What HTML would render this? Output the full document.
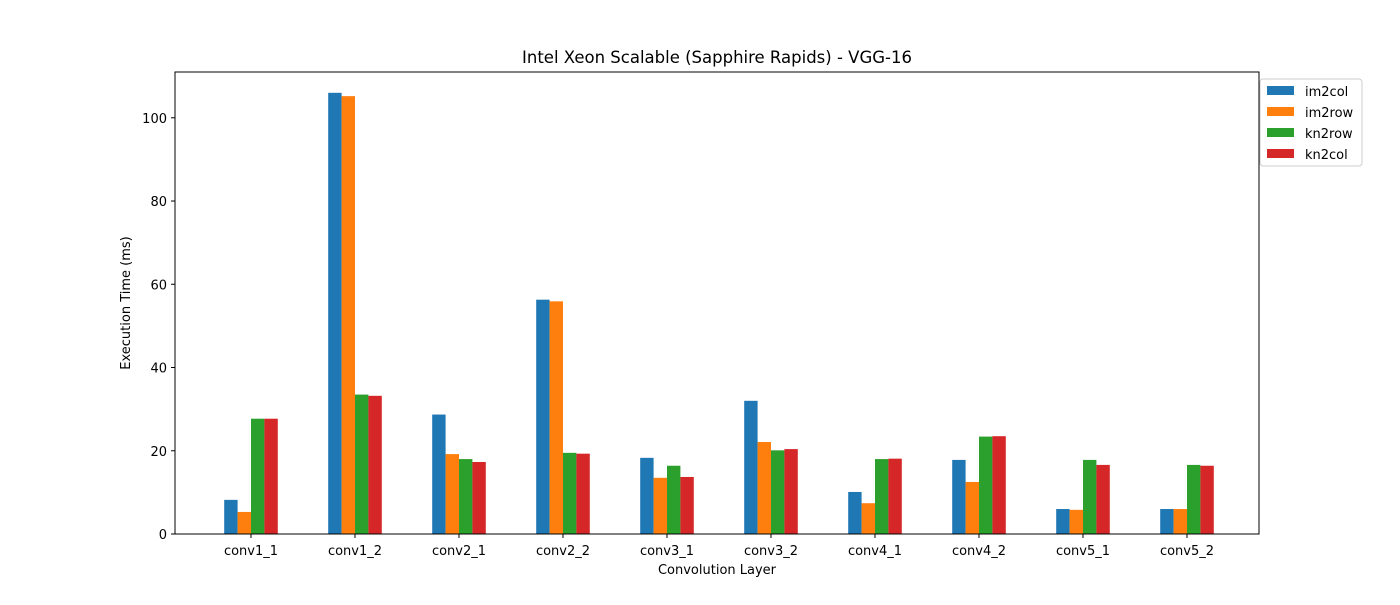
<!DOCTYPE html>
<html><head><meta charset="utf-8"><style>
body{margin:0;background:#fff;}
text{font-family:"DejaVu Sans","Liberation Sans",sans-serif;}
</style></head><body>
<svg id="chart" width="1400" height="600" xmlns="http://www.w3.org/2000/svg">
<rect width="1400" height="600" fill="#fff"/>
<text x="717" y="63" font-size="16.5" text-anchor="middle">Intel Xeon Scalable (Sapphire Rapids) - VGG-16</text>
<g id="bars"></g>
<rect x="175" y="72" width="1084" height="462" fill="none" stroke="#000" stroke-width="1"/>
<g id="axes"></g>
<text x="717" y="574" font-size="13" text-anchor="middle">Convolution Layer</text>
<text transform="translate(130,303) rotate(-90)" font-size="13" text-anchor="middle">Execution Time (ms)</text>
<g id="legend"></g>
</svg>
<script>
const categories=["conv1_1","conv1_2","conv2_1","conv2_2","conv3_1","conv3_2","conv4_1","conv4_2","conv5_1","conv5_2"];
const seriesNames=["im2col","im2row","kn2row","kn2col"];
const im2col=[8.2,106,28.7,56.3,18.3,32.0,10.1,17.8,6.0,6.0];
const im2row=[5.3,105.2,19.2,55.9,13.5,22.1,7.4,12.5,5.8,6.0];
const kn2row=[27.7,33.5,18.0,19.5,16.4,20.1,18.0,23.4,17.8,16.6];
const kn2col=[27.7,33.2,17.3,19.3,13.7,20.4,18.1,23.5,16.6,16.4];
const yTicks=[0,20,40,60,80,100];
const colors=["#1f77b4","#ff7f0e","#2ca02c","#d62728"];
const series=[im2col,im2row,kn2row,kn2col];
const NS="http://www.w3.org/2000/svg";
const yMin=0,yMax=111,plotTop=72,plotBottom=534;
function y(v){return plotBottom-(v-yMin)/(yMax-yMin)*(plotBottom-plotTop);}
function xc(i){return 251+i*104;}
const bw=13.4;
const bars=document.getElementById('bars');
series.forEach((s,k)=>{s.forEach((v,i)=>{
  const r=document.createElementNS(NS,'rect');
  r.setAttribute('x',xc(i)-2*bw+k*bw);r.setAttribute('y',y(v));
  r.setAttribute('width',bw);r.setAttribute('height',y(0)-y(v));
  r.setAttribute('fill',colors[k]);
  
  
  bars.appendChild(r);});});
const ax=document.getElementById('axes');
yTicks.forEach(t=>{
  const l=document.createElementNS(NS,'line');
  l.setAttribute('x1',171);l.setAttribute('x2',175);l.setAttribute('y1',y(t));l.setAttribute('y2',y(t));l.setAttribute('stroke','#000');
  
  
  ax.appendChild(l);
  const tx=document.createElementNS(NS,'text');
  tx.setAttribute('x',167);tx.setAttribute('y',y(t)+5);tx.setAttribute('font-size','13');tx.setAttribute('text-anchor','end');
  tx.textContent=t;
  
  
  ax.appendChild(tx);});
categories.forEach((c,i)=>{
  const l=document.createElementNS(NS,'line');
  l.setAttribute('x1',xc(i));l.setAttribute('x2',xc(i));l.setAttribute('y1',534);l.setAttribute('y2',538);l.setAttribute('stroke','#000');
  
  
  ax.appendChild(l);
  const tx=document.createElementNS(NS,'text');
  tx.setAttribute('x',xc(i));tx.setAttribute('y',555);tx.setAttribute('font-size','13');tx.setAttribute('text-anchor','middle');
  tx.textContent=c;
  
  
  ax.appendChild(tx);});
const lg=document.getElementById('legend');
const box=document.createElementNS(NS,'rect');
box.setAttribute('x',1260);box.setAttribute('y',79);box.setAttribute('width',102);box.setAttribute('height',87);box.setAttribute('rx',3);
box.setAttribute('fill','#fff');box.setAttribute('stroke','#ccc');


lg.appendChild(box);
seriesNames.forEach((n,k)=>{
  const r=document.createElementNS(NS,'rect');
  r.setAttribute('x',1267);r.setAttribute('y',86+k*21);r.setAttribute('width',27);r.setAttribute('height',9);r.setAttribute('fill',colors[k]);
  
  
  lg.appendChild(r);
  const t=document.createElementNS(NS,'text');
  t.setAttribute('x',1305);t.setAttribute('y',96+k*21);t.setAttribute('font-size','13');t.textContent=n;
  
  
  lg.appendChild(t);});
</script>
</body></html>
